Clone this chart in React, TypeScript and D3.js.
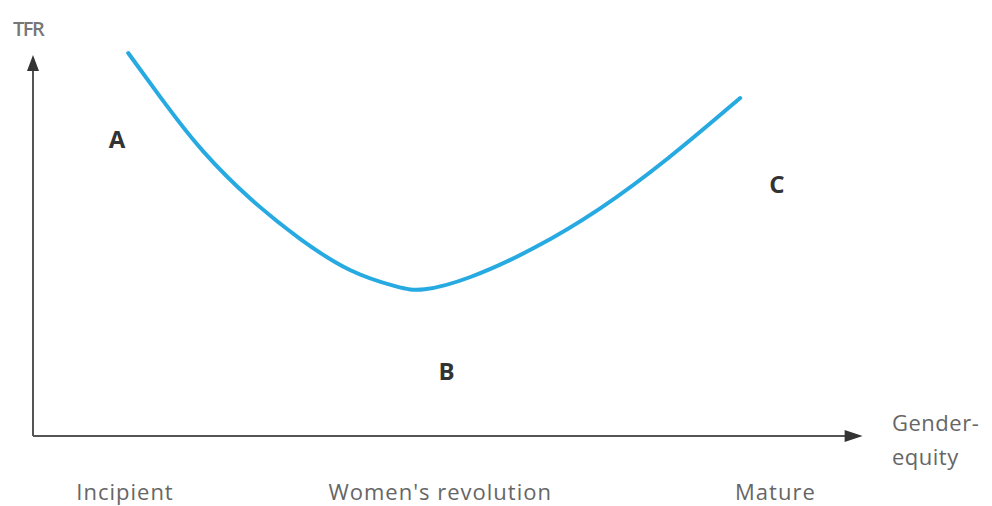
import React from 'react';
import * as d3 from 'd3';

// gender-equity index (x) vs TFR (y)
const equity = [1.19, 1.68, 2.09, 2.71, 3.34, 3.96, 4.59, 4.84, 5.43, 6.25, 7.09, 7.93, 8.84];
const tfr = [3.83, 3.29, 2.86, 2.36, 1.96, 1.63, 1.48, 1.44, 1.56, 1.86, 2.26, 2.76, 3.38];

const stageLabels = ['Incipient', "Women's revolution", 'Mature'];
const stagePos = [1.15, 5.09, 9.28];

const pointLabels = ['A', 'B', 'C'];
const pointX = [1.05, 5.17, 9.3];
const pointY = [2.88, 0.56, 2.43];

const width = 992;
const height = 506;

export default function App() {
  const x = d3.scaleLinear().domain([0, 10]).range([33, 833]);
  const y = d3.scaleLinear().domain([0, 4]).range([436, 36]);

  const pts = equity.map((e, i) => [e, tfr[i]] as [number, number]);
  const line = d3
    .line<[number, number]>()
    .x((d) => x(d[0]))
    .y((d) => y(d[1]))
    .curve(d3.curveBasis);

  const axisColor = '#555';
  const labelFont = "'Open Sans', 'DejaVu Sans', sans-serif";

  const x0 = x(0);
  const y0 = y(0);
  const yTop = y(3.81);
  const xEnd = x(10.37);

  return (
    <svg width={width} height={height} style={{ position: 'absolute', left: 0, top: 0 }}>
      <rect width={width} height={height} fill="#fff" />

      {/* axes */}
      <line x1={x0} y1={y0} x2={x0} y2={yTop + 8} stroke={axisColor} strokeWidth={2} />
      <path d={`M${x0},${yTop} L${x0 - 6},${yTop + 16} L${x0 + 6},${yTop + 16} Z`} fill="#333" />
      <line x1={x0} y1={y0} x2={xEnd - 8} y2={y0} stroke={axisColor} strokeWidth={2} />
      <path d={`M${xEnd},${y0} L${xEnd - 18},${y0 - 6} L${xEnd - 18},${y0 + 6} Z`} fill="#333" />

      <text x={13} y={36} fontFamily={labelFont} fontSize={20} fontWeight={600} fill="#777" letterSpacing={-1.5}>
        TFR
      </text>

      <text x={892} y={431} fontFamily={labelFont} fontSize={22} fill="#666" letterSpacing={0.5}>
        Gender-
      </text>
      <text x={892} y={465} fontFamily={labelFont} fontSize={22} fill="#666" letterSpacing={0.5}>
        equity
      </text>

      {stageLabels.map((s, i) => (
        <text
          key={s}
          x={x(stagePos[i])}
          y={500}
          textAnchor="middle"
          fontFamily={labelFont}
          fontSize={22}
          fill="#666"
          letterSpacing={1}
        >
          {s}
        </text>
      ))}

      {pointLabels.map((p, i) => (
        <text
          key={p}
          x={x(pointX[i])}
          y={y(pointY[i])}
          textAnchor="middle"
          fontFamily={labelFont}
          fontSize={24}
          fontWeight={700}
          fill="#333"
        >
          {p}
        </text>
      ))}

      <path d={line(pts) ?? ''} fill="none" stroke="#27aae1" strokeWidth={4} strokeLinecap="round" />
    </svg>
  );
}
